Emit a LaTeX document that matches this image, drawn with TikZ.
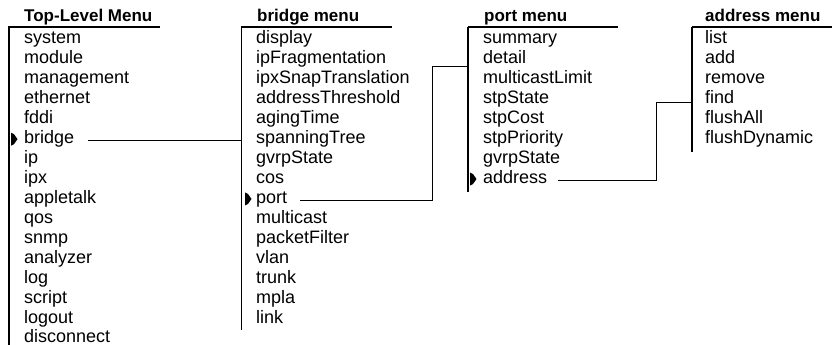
\documentclass[tikz,border=0pt]{standalone}
\usepackage{fontspec}
\setmainfont{Liberation Sans}
\usetikzlibrary{calc}
\newcommand\menuptr[2]{\fill ($(#1.base west)+(#2,-11)$) -- ++(3,1.5) -- ++(3.5,5) -- ++(-3.5,5) -- ++(-3,1.5) -- cycle;}
\begin{document}
\begin{tikzpicture}[x=1pt,y=-1pt,
  item/.style={anchor=base west,inner sep=0pt,font=\fontsize{18}{20}\selectfont},
  head/.style={anchor=base west,inner sep=0pt,font=\bfseries\fontsize{17}{20}\selectfont},
  rule/.style={line width=1.1pt},
  link/.style={line width=0.9pt}]
\useasboundingbox (0,0) rectangle (832,345);
% headers
\node[head] (h1) at (24,22) {Top-Level Menu};
\node[head] (h2) at (257,22) {bridge menu};
\node[head] (h3) at (484,22) {port menu};
\node[head] (h4) at (705,22) {address menu};
% column tops
\coordinate (c1top) at (9,27);
\coordinate (c2top) at (241.5,27);
\coordinate (c3top) at (468,27);
\coordinate (c4top) at (692,27);
% rules
\draw[rule] (8,27) -- (160,27);
\draw[rule] (c1top) -- (9,345);
\draw[rule] (241,27) -- (392,27);
\draw[rule] (c2top) -- (241.5,330);
\draw[rule] (467.5,27) -- (618,27);
\draw[rule] (c3top) -- (468,192);
\draw[rule] (691.5,27) -- (832,27);
\draw[rule] (c4top) -- (692,152);
% items
\foreach \s [count=\i from 0] in {system,module,management,ethernet,fddi,bridge,ip,ipx,appletalk,qos,snmp,analyzer,log,script,logout,disconnect}
  \node[item] (t\i) at (24,{44+\i*19.93}) {\s};
\foreach \s [count=\i from 0] in {display,ipFragmentation,ipxSnapTranslation,addressThreshold,agingTime,spanningTree,gvrpState,cos,port,multicast,packetFilter,vlan,trunk,mpla,link}
  \node[item] (b\i) at (256,{44+\i*19.93}) {\s};
\foreach \s [count=\i from 0] in {summary,detail,multicastLimit,stpState,stpCost,stpPriority,gvrpState,address}
  \node[item] (p\i) at (483,{44+\i*19.93}) {\s};
\foreach \s [count=\i from 0] in {list,add,remove,find,flushAll,flushDynamic}
  \node[item] (d\i) at (705,{44+\i*19.93}) {\s};
% pointers
\menuptr{t5}{-13}
\menuptr{b8}{-11}
\menuptr{p7}{-13}
% connectors
\coordinate (s1) at ([xshift=14pt,yshift=3.5pt]t5.base east);
\draw[link] (s1) -- (s1 -| c2top);
\coordinate (s2) at ([xshift=13pt,yshift=3pt]b8.base east);
\coordinate (k2) at (432,66);
\draw[link] (s2) -- (s2 -| k2) -- (k2) -- (k2 -| c3top);
\coordinate (s3) at ([xshift=11pt,yshift=3.5pt]p7.base east);
\coordinate (k3) at (656,102);
\draw[link] (s3) -- (s3 -| k3) -- (k3) -- (k3 -| c4top);
\end{tikzpicture}
\end{document}
